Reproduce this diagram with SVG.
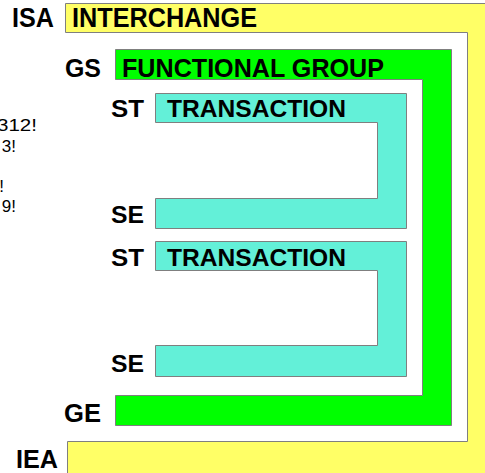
<svg xmlns="http://www.w3.org/2000/svg" width="485" height="473" viewBox="0 0 485 473">
  <style>
    .frame { stroke: #7f7f7f; stroke-width: 1; }
    .isa { fill: #ffff66; }
    .gs { fill: #00ff00; }
    .st { fill: #63f0d8; }
    .lbl { font-family: "Liberation Sans", Arial, Helvetica, sans-serif; font-weight: bold; fill: #000; }
    .side { font-family: "Liberation Sans", Arial, Helvetica, sans-serif; font-size: 17px; fill: #000; }
  </style>
  <rect width="485" height="473" fill="#ffffff"/>
  <g id="side-text">
    <text class="side" x="-3" y="131" textLength="40" lengthAdjust="spacingAndGlyphs">312!</text>
    <text class="side" x="16" y="152" text-anchor="end">3!</text>
    <text class="side" x="4" y="192" text-anchor="end">!</text>
    <text class="side" x="16" y="212" text-anchor="end">9!</text>
  </g>
  <g id="interchange">
    <path class="frame isa" d="M65.5,3.5 H490 V480 H67.5 V441.5 H467.5 V32.5 H65.5 Z"/>
    <text class="lbl" x="12" y="27" font-size="27" textLength="42" lengthAdjust="spacingAndGlyphs">ISA</text>
    <text class="lbl" x="72" y="27" font-size="27" textLength="185" lengthAdjust="spacingAndGlyphs">INTERCHANGE</text>
    <text class="lbl" x="16" y="468" font-size="26" textLength="42" lengthAdjust="spacingAndGlyphs">IEA</text>
  </g>
  <g id="functional-group">
    <path class="frame gs" d="M115.5,49.5 H451.5 V425.5 H115.5 V395.5 H422.5 V79.5 H115.5 Z"/>
    <text class="lbl" x="65" y="77" font-size="26" textLength="36" lengthAdjust="spacingAndGlyphs">GS</text>
    <text class="lbl" x="122" y="77" font-size="26" textLength="262" lengthAdjust="spacingAndGlyphs">FUNCTIONAL GROUP</text>
    <text class="lbl" x="64" y="422" font-size="26" textLength="37" lengthAdjust="spacingAndGlyphs">GE</text>
  </g>
  <g id="transaction-1">
    <path class="frame st" d="M155.5,93.5 H406.5 V228.5 H155.5 V198.5 H377.5 V122.5 H155.5 Z"/>
    <text class="lbl" x="111" y="117" font-size="24" textLength="33" lengthAdjust="spacingAndGlyphs">ST</text>
    <text class="lbl" x="167" y="117" font-size="24" textLength="179" lengthAdjust="spacingAndGlyphs">TRANSACTION</text>
    <text class="lbl" x="111" y="223" font-size="24" textLength="33" lengthAdjust="spacingAndGlyphs">SE</text>
  </g>
  <g id="transaction-2">
    <path class="frame st" d="M155.5,241.5 H406.5 V376.5 H155.5 V345.5 H377.5 V270.5 H155.5 Z"/>
    <text class="lbl" x="111" y="266" font-size="24" textLength="33" lengthAdjust="spacingAndGlyphs">ST</text>
    <text class="lbl" x="167" y="266" font-size="24" textLength="179" lengthAdjust="spacingAndGlyphs">TRANSACTION</text>
    <text class="lbl" x="111" y="372" font-size="24" textLength="33" lengthAdjust="spacingAndGlyphs">SE</text>
  </g>
  <g id="connectors"></g>
</svg>
